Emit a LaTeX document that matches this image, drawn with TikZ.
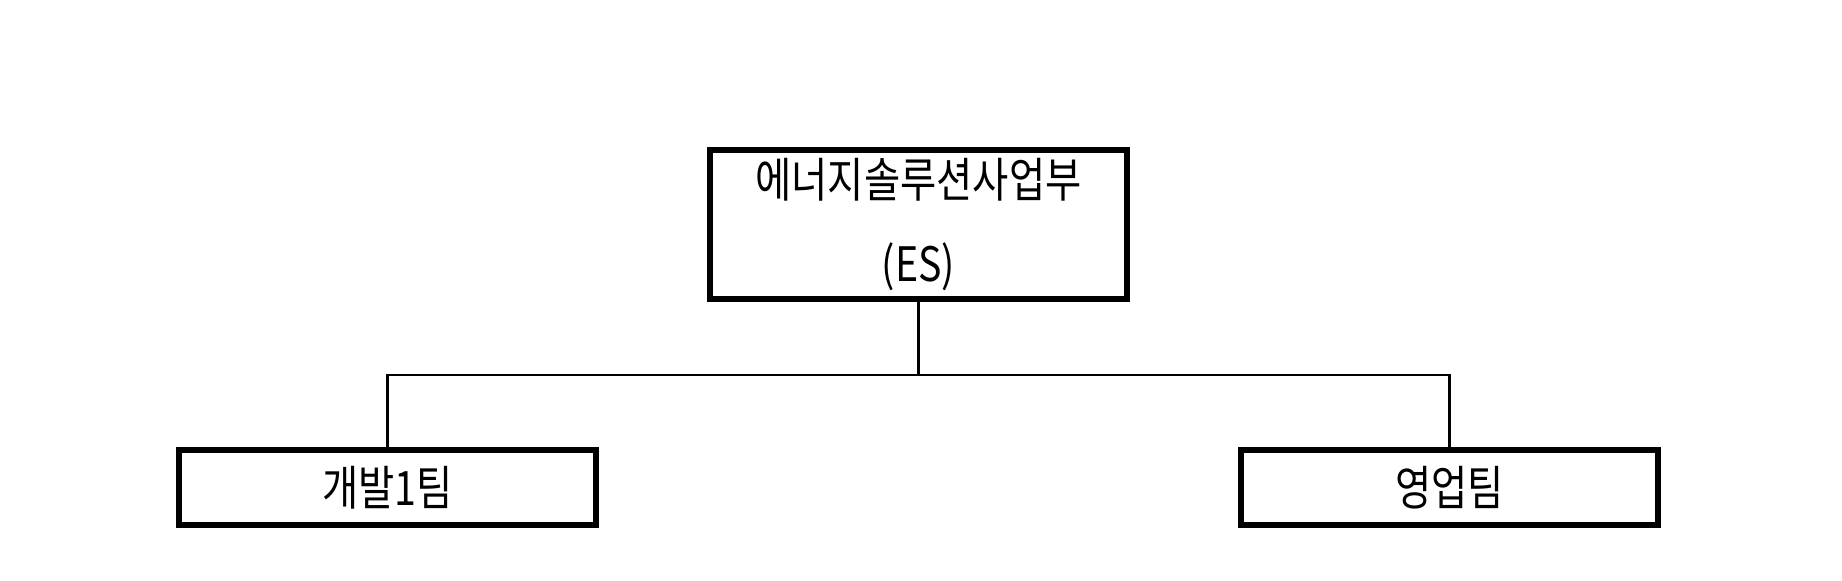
\documentclass[tikz,border=0pt]{standalone}
\usepackage{fontspec}
\newfontfamily\kofont[FakeStretch=0.83]{Noto Sans CJK KR}
\usepackage{tikz}
\usetikzlibrary{positioning,calc}

\begin{document}
\begin{tikzpicture}[unitbox/.style={draw,line width=3.8pt,minimum width=8.34cm,inner sep=0pt,align=center,font=\kofont\fontsize{27}{48}\selectfont},link/.style={line width=1.3pt}]
  \useasboundingbox (0,0) rectangle (36.84,-11.6);
  \node[unitbox,minimum height=2.98cm] (es) at (18.37,-4.49) {에너지솔루션사업부\\(ES)};
  \node[unitbox,minimum height=1.5cm] (dev1) at (7.75,-9.75) {개발1팀};
  \node[unitbox,minimum height=1.5cm] (sales) at (28.99,-9.75) {영업팀};
  % bus line
  \coordinate (bus) at ($(es.south)+(0,-1.45)$);
  \draw[link] (es.south) -- (bus);
  \draw[link] (dev1.north) |- (bus) -| (sales.north);
\end{tikzpicture}
\end{document}
